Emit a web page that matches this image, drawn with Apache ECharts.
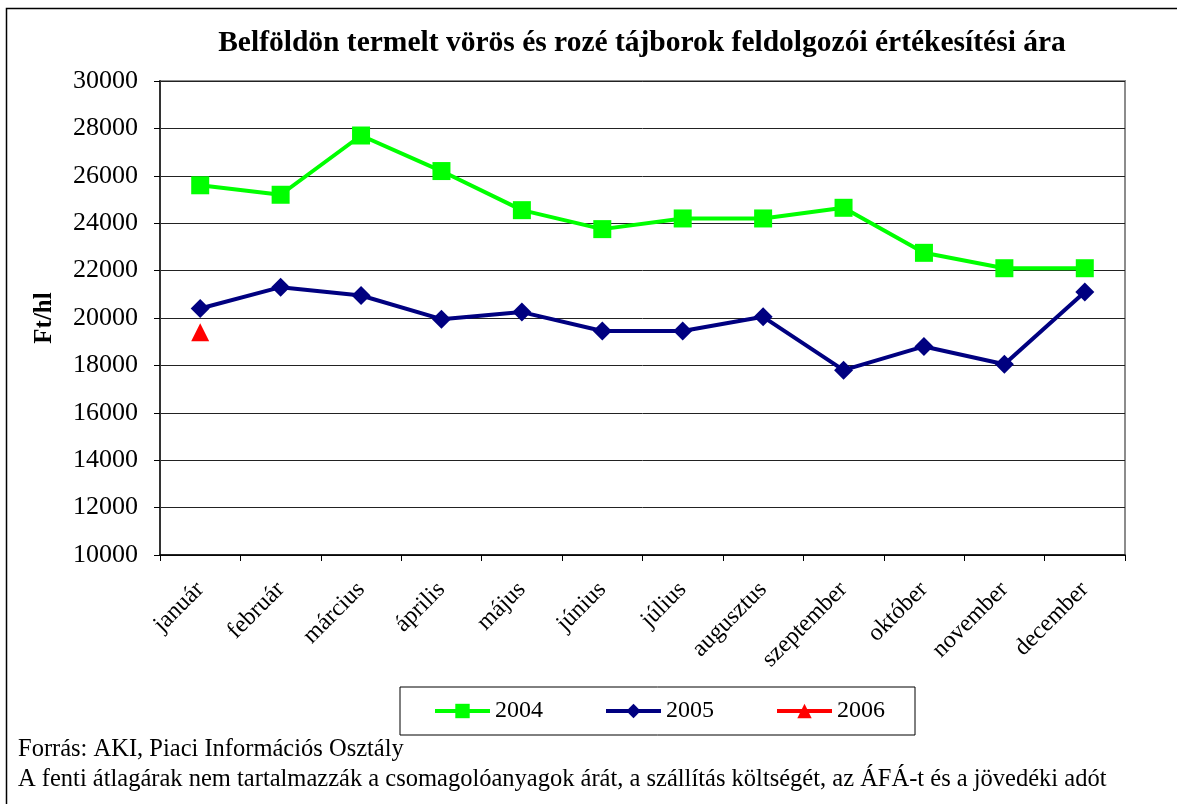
<!DOCTYPE html>
<html>
<head>
<meta charset="utf-8">
<script src="https://cdn.jsdelivr.net/npm/echarts@6/dist/echarts.min.js"></script>
<style>
  html, body { margin: 0; padding: 0; background: #fff; }
  #chart { width: 1177px; height: 804px; }
</style>
</head>
<body>
<div id="chart"></div>
<script>
var months = ['január', 'február', 'március', 'április', 'május', 'június',
  'július', 'augusztus', 'szeptember', 'október', 'november', 'december'];
var price2004 = [25600, 25200, 27700, 26200, 24550, 23750, 24200, 24200, 24650, 22750, 22100, 22100];
var price2005 = [20400, 21300, 20950, 19950, 20250, 19450, 19450, 20050, 17800, 18800, 18050, 21100];
var price2006 = [19400, null, null, null, null, null, null, null, null, null, null, null];
var seriesNames = ['2004', '2005', '2006'];

var serif = "'Liberation Serif', 'Times New Roman', serif";

var chart = echarts.init(document.getElementById('chart'));

chart.setOption({
  backgroundColor: '#fff',
  title: {
    text: 'Belföldön termelt vörös és rozé tájborok feldolgozói értékesítési ára',
    left: 642,
    top: 28,
    padding: 0,
    textAlign: 'center',
    textStyle: { fontFamily: serif, fontSize: 29.5, fontWeight: 'bold', color: '#000' }
  },
  grid: {
    left: 160, right: 52, top: 81, bottom: 249,
    show: true, borderColor: '#8c8c8c', borderWidth: 2
  },
  legend: {
    data: seriesNames,
    left: 400, top: 687,
    padding: [12, 30, 12, 33],
    borderColor: '#000', borderWidth: 1,
    itemWidth: 55, itemHeight: 18, itemGap: 61,
    lineStyle: { width: 4 },
    textStyle: { fontFamily: serif, fontSize: 24, color: '#000' }
  },
  xAxis: {
    type: 'category',
    data: months,
    boundaryGap: true,
    axisLine: { lineStyle: { color: '#000', width: 1.5 } },
    axisTick: { show: true, length: 6, lineStyle: { color: '#000' } },
    axisLabel: { interval: 0, rotate: 45, margin: 31, fontFamily: serif, fontSize: 24, color: '#000' },
    splitLine: { show: false }
  },
  yAxis: {
    type: 'value',
    min: 10000, max: 30000, interval: 2000,
    name: 'Ft/hl',
    nameLocation: 'middle',
    nameRotate: 90,
    nameGap: 103,
    nameTextStyle: { fontFamily: serif, fontSize: 25, fontWeight: 'bold', color: '#000' },
    axisLine: { show: true, lineStyle: { color: '#333', width: 2 } },
    axisTick: { show: true, length: 6, lineStyle: { color: '#000' } },
    axisLabel: {
      margin: 22, fontFamily: serif, fontSize: 26, color: '#000',
      formatter: function (v) { return String(v); }
    },
    splitLine: { lineStyle: { color: '#222', width: 1 } }
  },
  series: [
    {
      name: '2004', type: 'line', data: price2004,
      symbol: 'rect', symbolSize: 18,
      color: '#00ff00',
      lineStyle: { width: 4, color: '#00ff00' },
      itemStyle: { color: '#00ff00' }
    },
    {
      name: '2005', type: 'line', data: price2005,
      symbol: 'diamond', symbolSize: 19,
      color: '#000080',
      lineStyle: { width: 4, color: '#000080' },
      itemStyle: { color: '#000080' }
    },
    {
      name: '2006', type: 'line', data: price2006,
      symbol: 'triangle', symbolSize: 18,
      color: '#ff0000',
      lineStyle: { width: 4, color: '#ff0000' },
      itemStyle: { color: '#ff0000' }
    }
  ],
  graphic: [
    {
      type: 'rect', silent: true, z: -1,
      shape: { x: 6.5, y: 8.5, width: 1300, height: 1000 },
      style: { fill: null, stroke: '#000', lineWidth: 1.5 }
    },
    {
      type: 'text', left: 18, top: 737,
      style: { text: 'Forrás: AKI, Piaci Információs Osztály', font: '24.5px ' + serif, fill: '#000' }
    },
    {
      type: 'text', left: 18, top: 767,
      style: { text: 'A fenti átlagárak nem tartalmazzák a csomagolóanyagok árát, a szállítás költségét, az ÁFÁ-t és a jövedéki adót', font: '24.5px ' + serif, fill: '#000' }
    }
  ]
});
</script>
</body>
</html>
